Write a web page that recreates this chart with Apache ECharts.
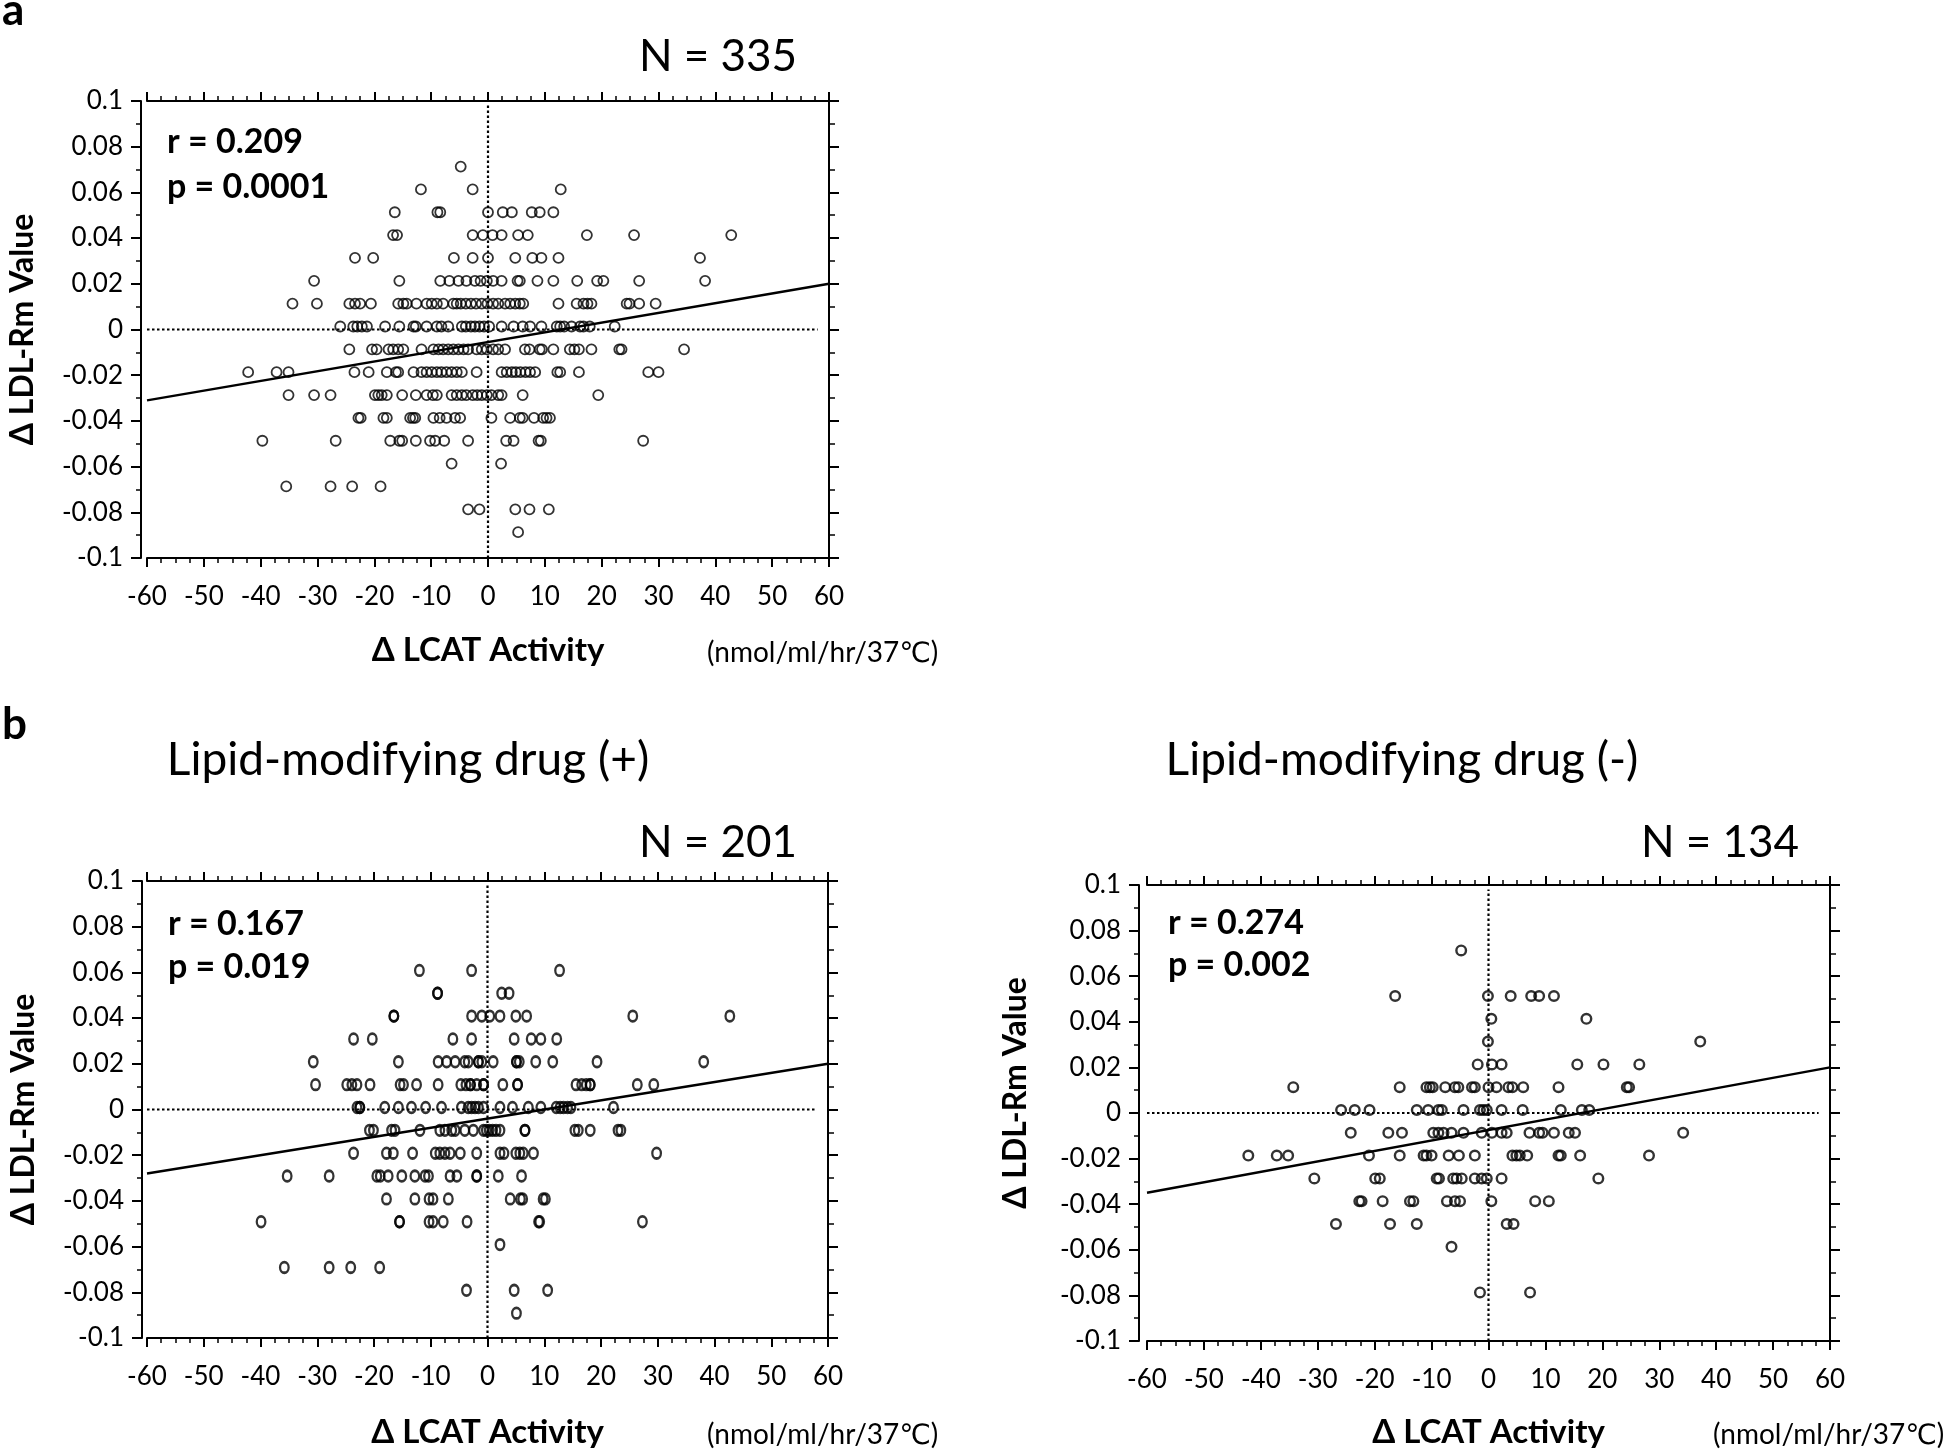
<!DOCTYPE html>
<html><head><meta charset="utf-8">
<script src="https://cdn.jsdelivr.net/npm/echarts@6/dist/echarts.min.js"></script>
<style>html,body{margin:0;padding:0;background:#fff}#c{width:1946px;height:1450px}</style>
</head><body><div id="c"></div>
<script>
// ---------- data (x = Δ LCAT activity, grouped by Δ LDL-Rm value) ----------
const aRows = [
  [0.07, [-4.8]],
  [0.06, [-11.8, -2.7, 12.8]],
  [0.05, [-16.4, -8.9, -8.4, 0, 2.6, 4.2, 7.7, 9.1, 11.5]],
  [0.04, [-16.7, -16.0, -2.7, -0.9, 0.8, 2.4, 5.3, 7.0, 17.4, 25.7, 42.8]],
  [0.03, [-23.4, -20.2, -6.0, -2.7, 0, 4.8, 7.8, 9.4, 12.4, 37.3]],
  [0.02, [-30.6, -15.6, -8.4, -6.8, -5.2, -3.8, -2.3, -1.3, -0.2, 0.9, 2.4, 5.2, 5.6, 8.7, 11.5, 15.7, 19.2, 20.3, 26.6, 38.2]],
  [0.01, [-34.4, -30.1, -24.4, -23.4, -22.5, -20.6, -15.8, -14.9, -14.3, -12.6, -10.8, -9.9, -9.0, -7.9, -6.1, -5.5, -4.8, -3.9, -3.0, -2.1, -1.1, -0.1, 0.9, 1.8, 3.0, 3.9, 4.8, 5.6, 6.2, 12.4, 15.6, 16.8, 17.5, 18.2, 24.4, 24.9, 26.6, 29.5]],
  [0, [-26.0, -23.7, -23.0, -22.2, -21.3, -18.1, -15.6, -13.1, -12.7, -10.8, -9.0, -8.2, -7.0, -4.6, -3.9, -3.0, -2.3, -1.5, -0.7, 0.2, 2.4, 4.5, 6.1, 7.4, 9.4, 12.1, 12.7, 13.4, 14.7, 16.2, 16.8, 17.9, 22.3]],
  [-0.01, [-24.4, -20.4, -19.6, -17.5, -16.7, -15.8, -14.9, -11.7, -9.6, -8.7, -7.9, -7.0, -6.1, -5.2, -4.3, -3.5, -2.0, -1.1, -0.2, 0.9, 1.8, 3.0, 6.5, 7.3, 9.1, 9.5, 11.5, 14.4, 15.2, 16.0, 18.2, 23.1, 23.5, 34.5]],
  [-0.02, [-42.2, -37.2, -35.1, -23.5, -21.0, -17.8, -16.2, -15.8, -13.1, -11.7, -10.8, -9.9, -9.0, -8.2, -7.3, -6.4, -5.5, -4.6, -2.0, 2.4, 3.3, 4.2, 4.9, 5.7, 6.6, 7.4, 8.3, 12.2, 12.7, 16.0, 28.2, 30.0]],
  [-0.03, [-35.1, -30.6, -27.7, -19.9, -19.3, -18.7, -17.8, -15.1, -12.7, -10.8, -9.7, -9.0, -6.4, -5.5, -4.6, -3.8, -2.7, -1.9, -1.1, -0.2, 0.6, 1.8, 2.4, 6.1, 19.4]],
  [-0.04, [-22.8, -22.4, -18.4, -17.8, -13.7, -13.2, -12.8, -9.6, -8.5, -7.3, -5.8, -4.9, 0.6, 3.9, 5.6, 6.1, 8.1, 9.7, 10.3, 10.9]],
  [-0.05, [-39.7, -26.8, -17.2, -15.6, -15.1, -12.7, -10.2, -9.3, -7.7, -3.5, 3.2, 4.5, 8.9, 9.3, 27.3]],
  [-0.06, [-6.4, 2.3]],
  [-0.07, [-35.5, -27.7, -23.9, -18.9]],
  [-0.08, [-3.5, -1.5, 4.8, 7.3, 10.7]],
  [-0.09, [5.3]]
];
const bPlusRows = [
  [0.06, [-12.0, -2.8, 12.7]],
  [0.05, [-8.8, -8.8, 2.5, 3.8]],
  [0.04, [-16.5, -16.5, -2.8, -1.0, 0.4, 2.2, 5.0, 6.9, 25.6, 42.7]],
  [0.03, [-23.6, -20.3, -6.1, -2.8, 4.7, 7.7, 9.4, 12.2]],
  [0.02, [-30.7, -15.7, -8.7, -7.2, -5.7, -4.0, -3.4, -1.6, -1.6, -1.0, 1.0, 5.1, 5.1, 5.6, 8.5, 11.5, 19.3, 38.1]],
  [0.01, [-30.3, -24.8, -23.9, -23.0, -20.7, -15.4, -14.8, -12.5, -8.7, -4.7, -3.8, -3.0, -3.0, -1.9, -0.7, -0.7, 2.7, 5.3, 5.3, 15.6, 16.6, 17.4, 18.1, 18.1, 26.4, 29.3]],
  [0, [-23.0, -22.5, -22.5, -18.1, -15.7, -13.4, -10.9, -8.1, -4.6, -3.4, -2.8, -2.2, -1.6, -0.7, 2.2, 4.4, 7.2, 9.4, 12.1, 12.8, 13.4, 14.1, 14.7, 22.2]],
  [-0.01, [-20.8, -20.1, -16.9, -16.3, -11.9, -8.4, -7.5, -6.3, -5.7, -4.0, -2.5, -0.7, -0.2, 0.3, 0.9, 1.5, 2.2, 6.6, 6.6, 15.4, 16.0, 18.1, 23.0, 23.5]],
  [-0.02, [-23.6, -17.8, -16.6, -13.2, -9.2, -8.4, -7.5, -6.6, -4.8, -1.9, 2.2, 2.9, 5.0, 5.7, 6.3, 8.1, 29.8]],
  [-0.03, [-35.3, -27.9, -19.5, -18.9, -17.5, -15.1, -12.8, -11.0, -10.4, -6.6, -5.4, -1.9, -1.9, 1.9, 6.0]],
  [-0.04, [-17.8, -12.8, -10.3, -9.6, -6.9, 4.0, 5.8, 6.2, 9.8, 10.2]],
  [-0.05, [-39.9, -15.5, -15.5, -10.3, -9.6, -7.8, -3.6, 9.0, 9.2, 27.3]],
  [-0.06, [2.2]],
  [-0.07, [-35.8, -27.9, -24.1, -19.0]],
  [-0.08, [-3.7, 4.7, 10.6]],
  [-0.09, [5.1]]
];
const bMinusRows = [
  [0.07, [-4.8]],
  [0.05, [-16.4, -0.1, 3.9, 7.5, 8.9, 11.5]],
  [0.04, [0.5, 17.2]],
  [0.03, [-0.1, 37.2]],
  [0.02, [-1.9, 0.6, 2.3, 15.6, 20.2, 26.5]],
  [0.01, [-34.3, -15.6, -10.9, -10.3, -9.8, -7.6, -5.9, -5.3, -2.9, -2.4, 0, 1.4, 3.5, 4.2, 6.1, 12.3, 24.3, 24.7]],
  [0, [-25.9, -23.5, -20.9, -12.6, -10.6, -8.8, -8.2, -4.4, -1.5, -0.9, -0.3, 2.3, 6.0, 12.7, 16.4, 17.7]],
  [-0.01, [-24.2, -17.6, -15.2, -9.7, -8.8, -7.9, -6.5, -4.4, -1.2, 0.6, 2.3, 3.2, 7.2, 8.9, 9.5, 11.5, 14.1, 15.2, 34.2]],
  [-0.02, [-42.2, -37.2, -35.2, -21.0, -15.6, -11.4, -10.9, -10.0, -7.0, -5.2, -2.4, 4.2, 4.9, 5.5, 6.8, 12.3, 12.7, 16.1, 28.2]],
  [-0.03, [-30.6, -19.9, -19.1, -9.1, -8.7, -6.2, -5.6, -4.7, -2.4, -1.2, -0.3, 2.3, 19.3]],
  [-0.04, [-22.7, -22.3, -18.6, -13.8, -13.2, -7.3, -5.9, -5.0, 0.5, 8.2, 10.6]],
  [-0.05, [-26.8, -17.3, -12.6, 3.2, 4.4]],
  [-0.06, [-6.5]],
  [-0.08, [-1.5, 7.3]]
];
const aFit = [[-60, -0.031], [60, 0.020]];
const bPlusFit = [[-60, -0.028], [60, 0.020]];
const bMinusFit = [[-60, -0.035], [60, 0.020]];
const zeroH = [[-60, 0], [58, 0]];
const zeroV = [[0, -0.1], [0, 0.098]];
const xRange = [-60, 60];
const yRange = [-0.1, 0.1];
const panelLetters = ['a', 'b'];
const subtitles = ['Lipid-modifying drug (+)', 'Lipid-modifying drug (-)'];
const nLabels = ['N = 335', 'N = 201', 'N = 134'];
const rLabels = ['r = 0.209', 'r = 0.167', 'r = 0.274'];
const pLabels = ['p = 0.0001', 'p = 0.019', 'p = 0.002'];
const xName = 'Δ LCAT Activity';
const xUnit = '(nmol/ml/hr/37℃)';
const yName = 'Δ LDL-Rm Value';

// ---------- layout / style ----------
const FONT = 'Lato, "DejaVu Sans", sans-serif';
const panels = [
  {grid: {left: 147, top: 101, width: 682, height: 457}, rows: aRows, fit: aFit,
   size: 10, bw: 1.8, off: -3, yOff: 6, xGap: 76, yGap: 102, yPad: 0,
   nX: 718, nY: 57, statX: 167, rY: 142, pY: 187, unitX: 707, unitY: 653},
  {grid: {left: 147, top: 881, width: 681, height: 458}, rows: bPlusRows, fit: bPlusFit,
   size: [8.6, 10.6], bw: 2.5, off: -2, yOff: 5, xGap: 78, yGap: 102, yPad: 0,
   nX: 718, nY: 843, statX: 168, rY: 924, pY: 967, unitX: 707, unitY: 1435},
  {grid: {left: 1147, top: 885, width: 683, height: 457}, rows: bMinusRows, fit: bMinusFit,
   size: 9.6, bw: 2.4, off: -3, yOff: 8, xGap: 75, yGap: 107, yPad: 40,
   nX: 1720, nY: 843, statX: 1168, rY: 923, pY: 965, unitX: 1713, unitY: 1435}
];

const black = '#000';
const tickStyle = {color: black, width: 2};
const minorStyle = {color: black, width: 1.5};
const grid = [], xAxis = [], yAxis = [], series = [], graphic = [];

panels.forEach((p, i) => {
  grid.push(p.grid);
  const common = {gridIndex: i, type: 'value', splitLine: {show: false}, minorSplitLine: {show: false}};
  xAxis.push(Object.assign({}, common, {
    position: 'bottom', min: xRange[0], max: xRange[1], interval: 10,
    axisLine: {show: true, onZero: false, lineStyle: {color: black, width: 2}},
    axisTick: {show: true, length: 9, lineStyle: tickStyle},
    minorTick: {show: true, splitNumber: 4, length: 5, lineStyle: minorStyle},
    axisLabel: {color: black, fontSize: 26, fontFamily: FONT, margin: 26},
    name: xName, nameLocation: 'middle', nameGap: p.xGap,
    nameTextStyle: {color: black, fontSize: 33, fontWeight: 'bold', fontFamily: FONT}
  }));
  xAxis.push(Object.assign({}, common, {
    position: 'top', min: xRange[0], max: xRange[1], interval: 10,
    axisLine: {show: true, onZero: false, lineStyle: {color: black, width: 2}},
    axisTick: {show: true, length: 9, lineStyle: tickStyle},
    minorTick: {show: true, splitNumber: 4, length: 5, lineStyle: minorStyle},
    axisLabel: {show: false}
  }));
  yAxis.push(Object.assign({}, common, {
    position: 'left', offset: p.yOff, min: yRange[0], max: yRange[1], interval: 0.02,
    axisLine: {show: true, onZero: false, lineStyle: {color: black, width: 2}},
    axisTick: {show: true, length: 10, lineStyle: tickStyle},
    minorTick: {show: true, splitNumber: 2, length: 5, lineStyle: minorStyle},
    axisLabel: {color: black, fontSize: 26, fontFamily: FONT, margin: 18,
      formatter: v => String(Math.round(v * 100) / 100)},
    name: yName, nameLocation: 'middle', nameGap: p.yGap, nameRotate: 90,
    nameTextStyle: {color: black, fontSize: 32, fontWeight: 'bold', fontFamily: FONT,
      padding: [0, 0, 0, p.yPad]}
  }));
  yAxis.push(Object.assign({}, common, {
    position: 'right', min: yRange[0], max: yRange[1], interval: 0.02,
    axisLine: {show: true, onZero: false, lineStyle: {color: black, width: 2}},
    axisTick: {show: true, length: 10, lineStyle: tickStyle},
    minorTick: {show: true, splitNumber: 2, length: 6, lineStyle: minorStyle},
    axisLabel: {show: false}
  }));
  const xi = 2 * i, yi = 2 * i;
  const refLine = data => ({type: 'line', xAxisIndex: xi, yAxisIndex: yi, data, symbol: 'none',
    silent: true, lineStyle: {color: black, width: 2.2, type: [2.5, 2.5]}, z: 2});
  series.push(refLine(zeroH), refLine(zeroV));
  series.push({type: 'line', xAxisIndex: xi, yAxisIndex: yi, data: p.fit, symbol: 'none',
    silent: true, lineStyle: {color: black, width: 2.4}, z: 4});
  series.push({type: 'scatter', xAxisIndex: xi, yAxisIndex: yi, z: 3,
    data: p.rows.flatMap(([y, xs]) => xs.map(x => [x, y])),
    symbol: 'circle', symbolSize: p.size, symbolOffset: [0, p.off],
    itemStyle: {color: 'rgba(0,0,0,0)', borderColor: black, borderWidth: p.bw}});

  graphic.push({type: 'text', x: p.nX, y: p.nY,
    style: {text: nLabels[i], font: '44px ' + FONT, fill: black, textAlign: 'center', textVerticalAlign: 'middle'}});
  graphic.push({type: 'text', x: p.statX, y: p.rY,
    style: {text: rLabels[i], font: 'bold 34px ' + FONT, fill: black, textAlign: 'left', textVerticalAlign: 'middle'}});
  graphic.push({type: 'text', x: p.statX, y: p.pY,
    style: {text: pLabels[i], font: 'bold 34px ' + FONT, fill: black, textAlign: 'left', textVerticalAlign: 'middle'}});
  graphic.push({type: 'text', x: p.unitX, y: p.unitY,
    style: {text: xUnit, font: '28px ' + FONT, fill: black, textAlign: 'left', textVerticalAlign: 'middle'}});
});

graphic.push({type: 'text', x: 2, y: 11,
  style: {text: panelLetters[0], font: 'bold 44px ' + FONT, fill: black, textAlign: 'left', textVerticalAlign: 'middle'}});
graphic.push({type: 'text', x: 2, y: 725,
  style: {text: panelLetters[1], font: 'bold 44px ' + FONT, fill: black, textAlign: 'left', textVerticalAlign: 'middle'}});
graphic.push({type: 'text', x: 408, y: 760,
  style: {text: subtitles[0], font: '46px ' + FONT, fill: black, textAlign: 'center', textVerticalAlign: 'middle'}});
graphic.push({type: 'text', x: 1402, y: 760,
  style: {text: subtitles[1], font: '46px ' + FONT, fill: black, textAlign: 'center', textVerticalAlign: 'middle'}});

const chart = echarts.init(document.getElementById('c'), null, {renderer: 'canvas'});
chart.setOption({animation: false, backgroundColor: '#fff', grid, xAxis, yAxis, series, graphic});
</script></body></html>
